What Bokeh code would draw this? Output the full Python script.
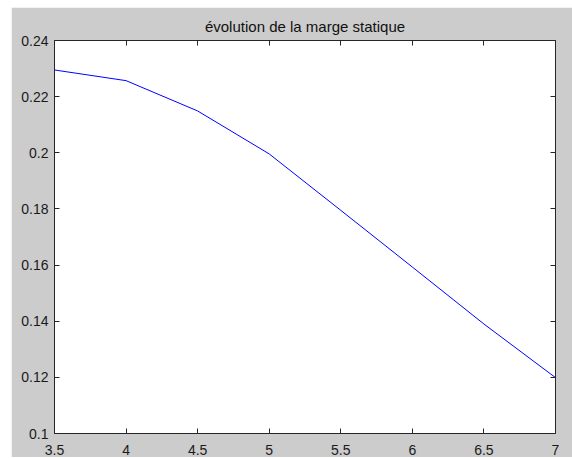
from bokeh.plotting import figure
from bokeh.models import Range1d, LinearAxis, FixedTicker, CustomLabelingPolicy
from bokeh.embed import file_html
from bokeh.resources import INLINE

# data
x_values = [3.5, 4.0, 4.5, 5.0, 5.5, 6.0, 6.5, 7.0]
y_values = [0.2295, 0.2257, 0.2149, 0.1996, 0.1795, 0.1593, 0.1390, 0.1199]
x_ticks = [3.5, 4.0, 4.5, 5.0, 5.5, 6.0, 6.5, 7.0]
x_tick_labels = ["3.5", "4", "4.5", "5", "5.5", "6", "6.5", "7"]
y_ticks = [0.10, 0.12, 0.14, 0.16, 0.18, 0.20, 0.22, 0.24]
y_tick_labels = ["0.1", "0.12", "0.14", "0.16", "0.18", "0.2", "0.22", "0.24"]
title_text = "évolution de la marge statique"

FONT = "Liberation Sans"
AX = "#262626"

p = figure(width=561, height=450, output_backend="svg", toolbar_location=None,
           x_range=Range1d(3.5, 7.0), y_range=Range1d(0.10, 0.24),
           x_axis_location=None, y_axis_location=None,
           min_border_left=43, min_border_right=17, min_border_top=33, min_border_bottom=23,
           background_fill_color="white", border_fill_color="#cccccc",
           title=title_text)
p.margin = (7, 0, 0, 11)
p.outline_line_color = None
p.xgrid.visible = False
p.ygrid.visible = False

p.title.text_font = FONT
p.title.text_font_size = "15px"
p.title.text_font_style = "normal"
p.title.text_color = "#111111"
p.title.align = "center"
p.title.standoff = 3

no_labels = CustomLabelingPolicy(code="""
const all = [...indices]
for (const i of all) indices.unset(i)
return indices
""")

def style(ax, ticks, labels, show):
    ax.ticker = FixedTicker(ticks=ticks)
    ax.axis_line_color = AX
    ax.axis_line_width = 1
    ax.major_tick_line_color = AX
    ax.major_tick_in = 5
    ax.major_tick_out = 0
    ax.minor_tick_line_color = None
    ax.major_label_text_font = FONT
    ax.major_label_text_color = "#1a1a1a"
    if show:
        ax.major_label_overrides = {t: l for t, l in zip(ticks, labels)}
        ax.major_label_text_font_size = "14px"
    else:
        ax.major_label_policy = no_labels
        ax.major_label_text_font_size = "1px"
        ax.major_label_standoff = 0

bottom = LinearAxis()
style(bottom, x_ticks, x_tick_labels, True)
bottom.major_label_standoff = 11
p.add_layout(bottom, "below")

left = LinearAxis()
style(left, y_ticks, y_tick_labels, True)
left.major_label_standoff = 6
p.add_layout(left, "left")

top = LinearAxis()
style(top, x_ticks, x_tick_labels, False)
p.add_layout(top, "above")

right = LinearAxis()
style(right, y_ticks, y_tick_labels, False)
p.add_layout(right, "right")

p.line(x_values, y_values, line_color="#0000ff", line_width=1)

open("out.html", "w").write(file_html(p, INLINE))
